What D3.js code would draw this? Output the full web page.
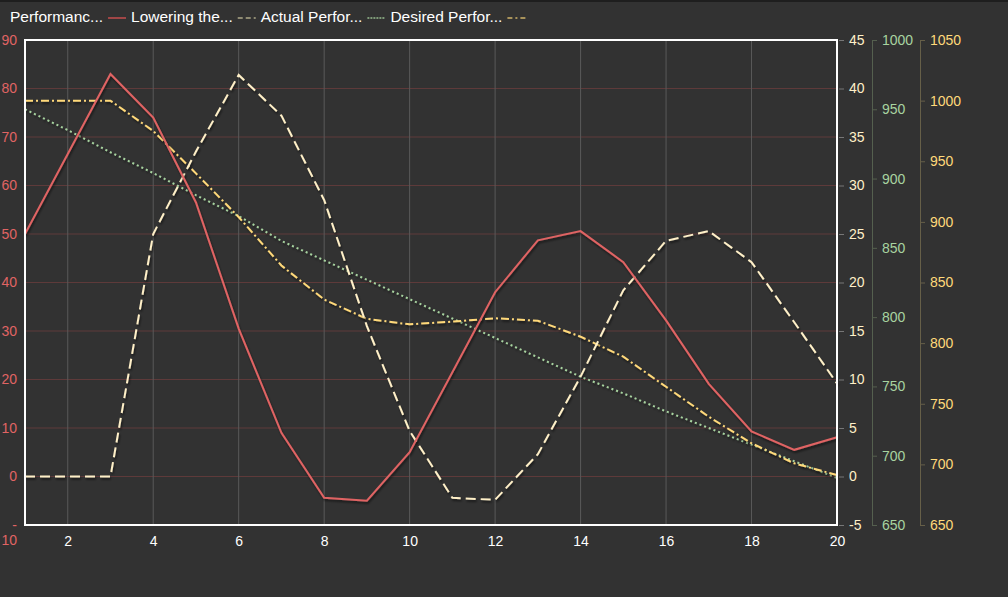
<!DOCTYPE html>
<html>
<head>
<meta charset="utf-8">
<script src="https://cdn.jsdelivr.net/npm/d3@7/dist/d3.min.js"></script>
<style>
  html, body { margin: 0; padding: 0; background: #323232; }
  svg { display: block; font-family: "Liberation Sans", Arial, sans-serif; }
</style>
</head>
<body>
<svg id="chart" width="1008" height="597"></svg>
<script>
// ---- data ----
const categories = [1,2,3,4,5,6,7,8,9,10,11,12,13,14,15,16,17,18,19,20];
const seriesNames = ["Performanc...", "Lowering the...", "Actual Perfor...", "Desired Perfor..."];
const performance = [50, 66.5, 83, 74, 56.5, 30.5, 9, -4.4, -5, 5, 21.5, 38, 48.7, 50.6, 44.2, 32.2, 19.1, 9.3, 5.5, 8.1];
const lowering = [0, 0, 0, 25, 33.5, 41.4, 37.2, 28.5, 15.5, 4.7, -2.2, -2.4, 2.3, 10.3, 19.2, 24.3, 25.3, 22.1, 15.9, 9.6];
const actual = [950, 935, 919, 904, 888, 873, 855, 841, 827, 813, 799, 785, 771, 757, 745, 732, 720, 708, 696, 684];
const desired = [1000, 1000, 1000, 975, 940, 904, 864, 836, 820, 815.5, 817.7, 820.5, 818.5, 805.3, 788.8, 764, 739.3, 717.4, 700.9, 691.2];
const xTicks = [2,4,6,8,10,12,14,16,18,20];
const leftTicks = [-10,0,10,20,30,40,50,60,70,80,90];
const right1Ticks = [-5,0,5,10,15,20,25,30,35,40,45];
const greenTicks = [650,700,750,800,850,900,950,1000];
const yellowTicks = [650,700,750,800,850,900,950,1000,1050];

// ---- layout ----
const svg = d3.select("#chart");
const L = 25, R = 837, T = 40, B = 525;
const x = d3.scaleLinear().domain([1,20]).range([L,R]);
const yL = d3.scaleLinear().domain([-10,90]).range([B,T]);
const yR1 = d3.scaleLinear().domain([-5,45]).range([B,T]);
const yG = d3.scaleLinear().domain([650,1000]).range([B,T]);
const yY = d3.scaleLinear().domain([650,1050]).range([B,T]);

const colRed = "#e06464", colWhite = "#fff0c8", colGreen = "#a8d4a0", colYellow = "#ffd97a";
const FONT = "Liberation Sans, Arial, sans-serif";
const TICKFS = "14px";

svg.append("rect").attr("width",1008).attr("height",597).attr("fill","#323232");
svg.append("rect").attr("width",1008).attr("height",2).attr("fill","#1e1e1e");

const defs = svg.append("defs");
const f = defs.append("filter").attr("id","sh").attr("x","-5%").attr("y","-5%").attr("width","110%").attr("height","120%");
f.append("feDropShadow").attr("dx",1).attr("dy",2).attr("stdDeviation",1.2).attr("flood-color","#000").attr("flood-opacity",0.55);

// gridlines
const grid = svg.append("g");
grid.selectAll("line.h").data(leftTicks.filter(d => d > -10 && d < 90)).join("line")
  .attr("x1",L).attr("x2",R).attr("y1",d=>yL(d)).attr("y2",d=>yL(d))
  .attr("stroke","#5e3a3a").attr("stroke-width",1);
grid.selectAll("line.v").data(xTicks.filter(d => d < 20)).join("line")
  .attr("x1",d=>x(d)).attr("x2",d=>x(d)).attr("y1",T).attr("y2",B)
  .attr("stroke","#5a5a5a").attr("stroke-width",1);

// lines
function draw(data, yScale, color, dash) {
  const line = d3.line().x((d,i)=>x(categories[i])).y(d=>yScale(d));
  svg.append("path").datum(data).attr("d",line).attr("fill","none")
    .attr("stroke",color).attr("stroke-width",2).attr("stroke-dasharray",dash)
    .attr("filter","url(#sh)");
}
draw(actual, yG, colGreen, "2,3");
draw(desired, yY, colYellow, "8,3,2,3");
draw(lowering, yR1, colWhite, "10,5");
draw(performance, yL, colRed, null);

// plot border
svg.append("rect").attr("x",L).attr("y",T).attr("width",R-L).attr("height",B-T)
  .attr("fill","none").attr("stroke","#ffffff").attr("stroke-width",2);

function styleText(sel, color) {
  sel.selectAll("text").attr("fill",color).style("font-size",TICKFS).attr("font-family",FONT);
}

// x axis labels
const xa = svg.append("g").attr("transform",`translate(0,${B})`)
  .call(d3.axisBottom(x).tickValues(xTicks).tickSize(0).tickPadding(11).tickFormat(d=>d));
xa.select(".domain").remove();
styleText(xa, "#ffffff");

// left axis
const la = svg.append("g").attr("transform",`translate(${L},0)`)
  .call(d3.axisLeft(yL).tickValues(leftTicks).tickSize(0).tickPadding(8).tickFormat(d=>d));
la.select(".domain").remove();
styleText(la, colRed);
la.selectAll("text").each(function(d){
  if (d === -10) {
    const t = d3.select(this);
    t.text(null).attr("dy",null);
    t.append("tspan").attr("x",-8).attr("dy","0.32em").text("-");
    t.append("tspan").attr("x",-8).attr("dy","1.1em").text("10");
  }
});

// right axis 1
const r1 = svg.append("g").attr("transform",`translate(${R+2},0)`)
  .call(d3.axisRight(yR1).tickValues(right1Ticks).tickSize(5).tickPadding(5).tickFormat(d=>d));
r1.select(".domain").remove();
r1.selectAll("line").attr("stroke","#777");
styleText(r1, colWhite);

// green axis
const ga = svg.append("g").attr("transform",`translate(872,0)`)
  .call(d3.axisRight(yG).tickValues(greenTicks).tickSize(5).tickPadding(5).tickSizeOuter(0).tickFormat(d=>d));
ga.select(".domain").attr("stroke","#55604f");
ga.selectAll("line").attr("stroke","#55604f");
styleText(ga, colGreen);

// yellow axis
const ya = svg.append("g").attr("transform",`translate(920,0)`)
  .call(d3.axisRight(yY).tickValues(yellowTicks).tickSize(5).tickPadding(5).tickSizeOuter(0).tickFormat(d=>d));
ya.select(".domain").attr("stroke","#665f48");
ya.selectAll("line").attr("stroke","#665f48");
styleText(ya, colYellow);

// legend
const legendColors = ["#a04646", "#8e8a72", "#7e9a78", "#a8925a"];
const legendDash = [null, "5,3", "2,1", "5,3,2,3"];
const lg = svg.append("g").attr("transform","translate(10,17)");
let cx = 0;
seriesNames.forEach((n,i)=>{
  const t = lg.append("text").attr("x",cx).attr("y",0).attr("dy","0.35em")
    .attr("fill","#ffffff").style("font-size","15.5px").attr("font-family",FONT).text(n);
  const w = t.node().getComputedTextLength();
  cx += w + 5;
  lg.append("line").attr("x1",cx).attr("x2",cx+18).attr("y1",1).attr("y2",1)
    .attr("stroke",legendColors[i]).attr("stroke-width",2).attr("stroke-dasharray",legendDash[i]);
  cx += 23;
});
</script>
</body>
</html>
